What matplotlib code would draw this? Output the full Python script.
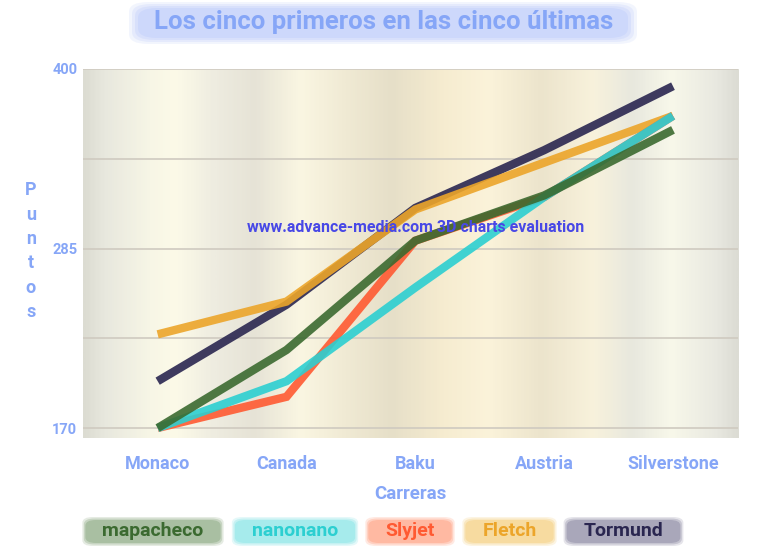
import matplotlib.pyplot as plt
import numpy as np
from matplotlib.colors import LinearSegmentedColormap
from matplotlib.patches import FancyBboxPatch

plt.rcParams['font.family'] = ['Roboto', 'DejaVu Sans']

carreras = ['Monaco', 'Canada', 'Baku', 'Austria', 'Silverstone']
pilotos = ['mapacheco', 'nanonano', 'Slyjet', 'Fletch', 'Tormund']
mapacheco = [170, 220, 290, 319, 361]
nanonano = [170, 200, 260, 318, 370]
slyjet = [170, 190, 290, 318, 370]
fletch = [230, 251, 310, 340, 370]
tormund = [200, 249, 311, 348, 389]
y_ticks = [170, 285, 400]

colores = ['#3b6a30', '#2ccfd1', '#ff5a32', '#eca52a', '#2a2650']
fondos = ['#a9bfa2', '#a6ebec', '#ffb9a2', '#f7dba0', '#a9a7ba']
texto = '#86a6f7'

W, H = 768, 552
fig = plt.figure(figsize=(7.68, 5.52), dpi=100)
ax = fig.add_axes([0.108, 0.2065, 0.853, 0.6685])

x = np.arange(len(carreras))
ax.set_xlim(-0.58, 4.505)
ax.set_ylim(163.6, 400)

# striped background of the plot area
stops = [0.0, 0.03, 0.1, 0.14, 0.2, 0.26, 0.33, 0.4, 0.47, 0.55, 0.62, 0.7, 0.78, 0.84, 0.9, 0.97, 1.0]
cols = ['#dcdcd2', '#e8e8de', '#f7f6e6', '#fcfae8', '#eeece0', '#e6e3d6', '#faf6e2', '#f0ead4',
        '#e6dfc8', '#f6ecd0', '#fbf3da', '#ece4cc', '#f8f2dc', '#e8e8de', '#f8f8ea', '#e8e8e0', '#dcdcd4']
cmap = LinearSegmentedColormap.from_list('fondo', list(zip(stops, cols)))
grad = np.linspace(0, 1, 400)[None, :]
ax.imshow(grad, cmap=cmap, aspect='auto', extent=(-0.58, 4.505, 163.6, 400), zorder=0)

for yg in [170, 227.5, 285, 342.5, 400]:
    ax.axhline(yg, color='#cfcac0', lw=1.2, zorder=1)

series = [mapacheco, nanonano, slyjet, fletch, tormund]
for i in range(len(series) - 1, -1, -1):
    ax.plot(x, series[i], color=colores[i], lw=6, solid_capstyle='butt',
            solid_joinstyle='miter', alpha=0.9, zorder=3 + (4 - i))

for s in ax.spines.values():
    s.set_visible(False)
ax.set_xticks(x)
ax.set_xticklabels(carreras, fontsize=13, fontweight='bold', color=texto)
ax.set_yticks(y_ticks)
ax.set_yticklabels([str(v) for v in y_ticks], fontsize=10.5, fontweight='bold', color=texto)
ax.tick_params(axis='both', length=0)
ax.tick_params(axis='x', pad=12)
ax.tick_params(axis='y', pad=4)

ax.set_xlabel('Carreras', fontsize=13.5, fontweight='bold', color=texto, labelpad=9)
fig.text(0.04, 0.545, '\n'.join('Puntos'), fontsize=13, fontweight='bold', color=texto,
         ha='center', va='center', linespacing=1.45)

# title with soft glow
for k, a in [(3, 0.25), (2, 0.35), (1, 0.5), (0, 1.0)]:
    fig.patches.append(FancyBboxPatch(((138 - k * 3) / W, 1 - (38 + k * 2) / H), (490 + k * 6) / W, (30 + k * 4) / H,
                                      boxstyle='round,pad=0,rounding_size=0.025', transform=fig.transFigure,
                                      fc='#cdd8fb', ec='none', alpha=a, mutation_aspect=H / W))
fig.text(0.5, 1 - 22 / H, 'Los cinco primeros en las cinco últimas', fontsize=18.5, fontweight='bold',
         color=texto, ha='center', va='center')

ax.text(0.508, 0.57, 'www.advance-media.com 3D charts evaluation', transform=ax.transAxes,
        fontsize=11.5, fontweight='bold', color='#4848e6', ha='center', va='center', zorder=10)

# legend as rounded pills
centros = [153, 295, 410, 509.5, 623.5]
fig.canvas.draw()
r = fig.canvas.get_renderer()
for nombre, cx, c, f in zip(pilotos, centros, colores, fondos):
    t = fig.text(cx / W, 1 - 531.5 / H, nombre, fontsize=14, fontweight='bold', color=c,
                 ha='center', va='center', zorder=5)
    w = t.get_window_extent(r).width + 34
    for k, a in [(2, 0.3), (1, 0.5), (0, 1.0)]:
        fig.patches.append(FancyBboxPatch(((cx - w / 2 - k * 1.5) / W, 1 - (543 + k * 1.5) / H),
                                          (w + k * 3) / W, (23 + k * 3) / H,
                                          boxstyle='round,pad=0,rounding_size=0.014', transform=fig.transFigure,
                                          fc=f, ec='none', alpha=a, mutation_aspect=H / W, zorder=1))

fig.savefig('out.png', dpi=100)
